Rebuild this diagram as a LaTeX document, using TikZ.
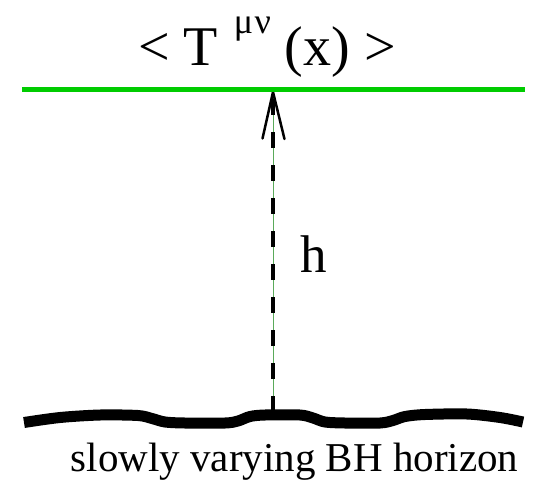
\documentclass[tikz,border=0pt]{standalone}
\usepackage{fontspec}
\setmainfont{Liberation Serif}
\newfontfamily\tnr{Liberation Serif}
\definecolor{lgreen}{RGB}{0,204,0}
\definecolor{tgreen}{RGB}{90,170,90}
\begin{document}
\begin{tikzpicture}[x=1pt,y=-1pt,
  greenline/.style={draw=lgreen,line width=5pt},
  thinline/.style={draw=tgreen,line width=1pt},
  dashline/.style={draw=black,line width=3.5pt,dash pattern=on 15.5pt off 17.5pt,dash phase=26pt},
  arm/.style={draw=black,line width=2.5pt,line cap=round,line join=round},
  horizon/.style={draw=black,line width=11pt},
  lbl/.style={inner sep=0pt,anchor=base}]
\useasboundingbox (0,0) rectangle (539,483);
% coordinates
\coordinate (gL) at (22,89.5);
\coordinate (gR) at (525,89.5);
\coordinate (gl) at (273,92);
\coordinate (hz) at (273,410);
% connector
\draw[thinline] (hz) -- (gl);
\draw[dashline] (gl) -- (hz);
\draw[arm] (gl) ++(-10.5,46.5) -- (gl) -- ++(11.5,47);
% green line
\draw[greenline] (gL) -- (gR);
% horizon
\draw[horizon] plot[smooth,tension=0.5] coordinates {(24,422.5) (60,417.5) (100,415) (138,415.5) (152,418.5) (165,422) (185,423) (225,423) (238,421) (250,416.5) (265,415) (300,415) (313,418) (325,422) (345,423) (380,423) (393,420.5) (405,416.5) (425,414.5) (467,414) (500,417.5) (523,422)};
% labels
\node[lbl,font=\tnr\fontsize{56}{60}\selectfont] (T) at (267,65) {< T\kern2pt\ \raisebox{32pt}{\fontsize{36}{36}\selectfont μ\kern1.5ptν}\ (x) >};
\node[lbl,font=\tnr\fontsize{53}{60}\selectfont] (h) at (313.5,272.7) {h};
\node[lbl,font=\tnr\fontsize{41}{48}\selectfont] (cap) at (294.5,471.5) {slowly varying BH horizon};
\end{tikzpicture}
\end{document}
